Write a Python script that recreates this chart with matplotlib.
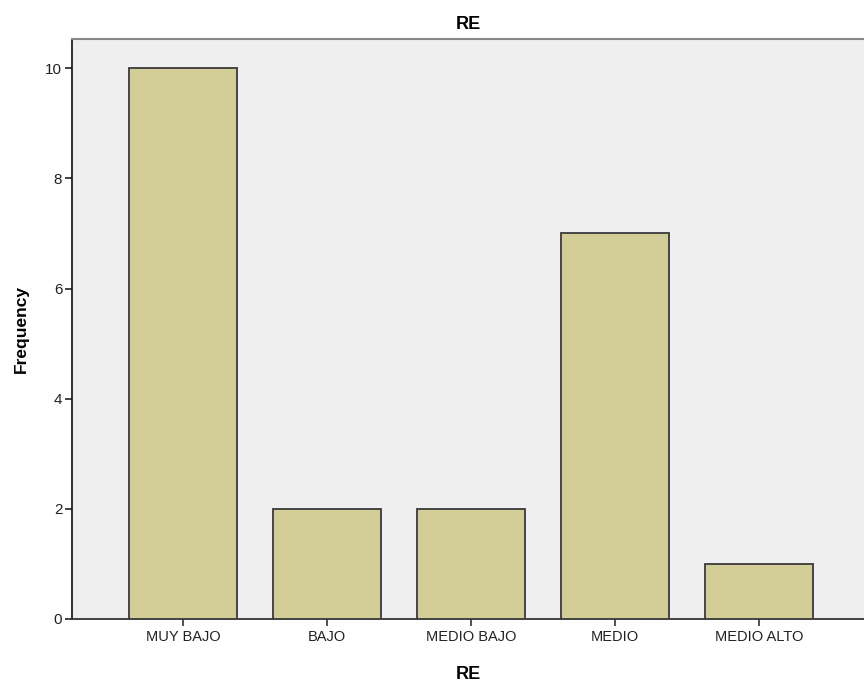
import matplotlib
matplotlib.use("Agg")
import matplotlib.pyplot as plt

categories = ["MUY BAJO", "BAJO", "MEDIO BAJO", "MEDIO", "MEDIO ALTO"]
frequencies = [10, 2, 2, 7, 1]
y_ticks = [0, 2, 4, 6, 8, 10]

plt.rcParams['font.family'] = ['Arial', 'Liberation Sans', 'DejaVu Sans']

fig = plt.figure(figsize=(8.64, 6.84), dpi=100)
ax = fig.add_axes([72/864, 65/684, 1 - 72/864, (619-39)/684])
ax.set_facecolor("#EFEFEF")

x = list(range(len(categories)))
ax.bar(x, frequencies, width=0.75, color="#D3CE97", edgecolor="#3a3a3a", linewidth=1.3, zorder=3)

ax.set_xlim(-0.77, 4.727)
ax.set_ylim(0, 10.53)
ax.set_xticks(x)
ax.set_xticklabels(categories, fontsize=10.5, color="#222222")
ax.set_yticks(y_ticks)
ax.set_yticklabels([str(v) for v in y_ticks], fontsize=11, color="#222222")
ax.tick_params(axis='x', length=5, width=1.2, color="#333333", pad=3)
ax.tick_params(axis='y', length=5, width=1.2, color="#222222", pad=2)

ax.spines["right"].set_visible(False)
ax.spines["top"].set_color("#888888")
ax.spines["top"].set_linewidth(1.5)
ax.spines["left"].set_color("#111111")
ax.spines["left"].set_linewidth(1.2)
ax.spines["bottom"].set_color("#333333")
ax.spines["bottom"].set_linewidth(1.3)

ax.set_title("RE", fontsize=13, fontweight="bold", pad=7)
ax.set_xlabel("RE", fontsize=13, fontweight="bold", labelpad=16)
ax.set_ylabel("Frequency", fontsize=12.5, fontweight="bold", labelpad=12)

fig.savefig("out.png", dpi=100)
